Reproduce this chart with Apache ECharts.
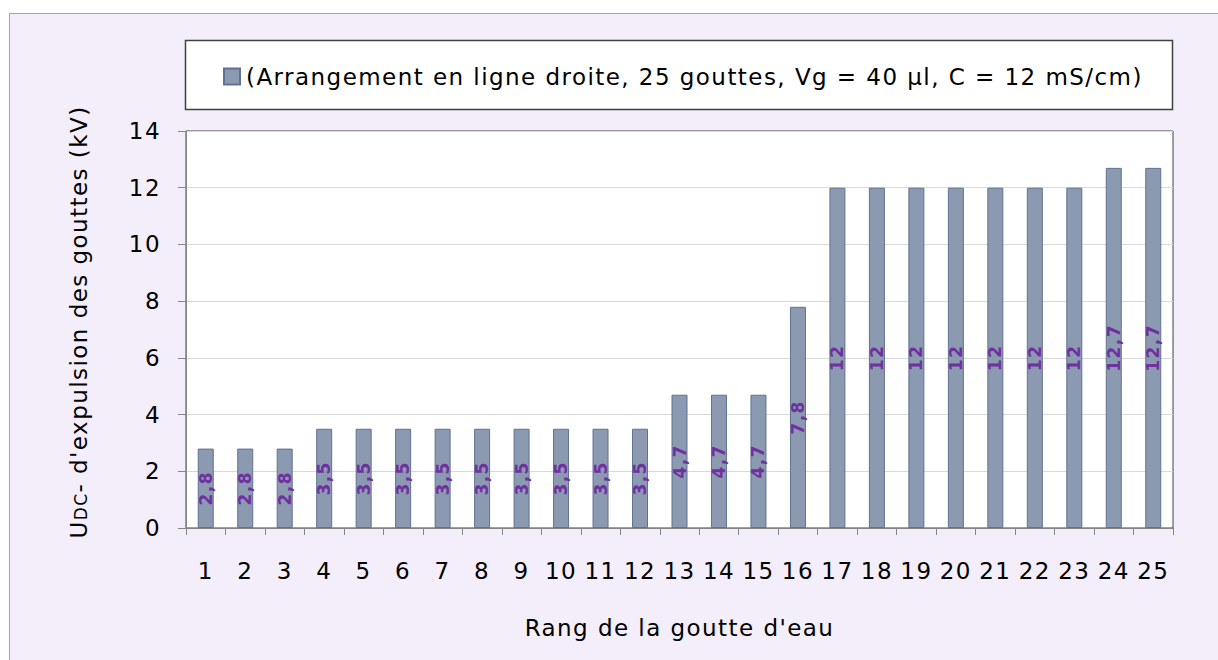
<!DOCTYPE html>
<html>
<head>
<meta charset="utf-8">
<script src="https://cdn.jsdelivr.net/npm/echarts@6/dist/echarts.min.js"></script>
<style>
  html, body { margin: 0; padding: 0; background: #ffffff; }
  #chart { width: 1218px; height: 660px; }
  /* slightly airy lettering, Verdana-style */
  #chart svg text { letter-spacing: 1.45px; }
</style>
</head>
<body>
<div id="chart"></div>
<script>
// Droplet rank and DC expulsion voltage (kV)
const categories = ['1','2','3','4','5','6','7','8','9','10','11','12','13','14','15','16','17','18','19','20','21','22','23','24','25'];
const voltages = [2.8, 2.8, 2.8, 3.5, 3.5, 3.5, 3.5, 3.5, 3.5, 3.5, 3.5, 3.5, 4.7, 4.7, 4.7, 7.8, 12, 12, 12, 12, 12, 12, 12, 12.7, 12.7];
const seriesName = '(Arrangement en ligne droite, 25 gouttes, Vg = 40 µl, C = 12 mS/cm)';
const xTitle = "Rang de la goutte d'eau";
const yTitle = ['U', 'DC', "- d'expulsion des gouttes (kV)"];

const FONT = '"DejaVu Sans", Verdana, sans-serif';
const FS = 23;
const FS_SMALL = 17;
const SPACING = 1.45;

// Width of a string as drawn with the extra letter spacing
const measureCtx = document.createElement('canvas').getContext('2d');
function textWidth(str, size) {
  measureCtx.font = size + 'px ' + FONT;
  return measureCtx.measureText(str).width + str.length * SPACING;
}

// Vertical axis title: "U" + small "DC" + rest, rotated to read upward
const yTitleSizes = [FS, FS_SMALL, FS];
const yTitleWidths = yTitle.map((t, i) => textWidth(t, yTitleSizes[i]));
const yTitleTotal = yTitleWidths.reduce((a, b) => a + b, 0);
let cursor = -yTitleTotal / 2;
const yTitleParts = yTitle.map((t, i) => {
  const part = {
    type: 'text',
    x: cursor,
    y: i === 1 ? FS / 2 - 1.3 : FS / 2,
    style: {
      text: t,
      font: yTitleSizes[i] + 'px ' + FONT,
      fill: '#000',
      align: 'left',
      verticalAlign: 'bottom'
    }
  };
  cursor += yTitleWidths[i];
  return part;
});

const chart = echarts.init(document.getElementById('chart'), null, { renderer: 'svg' });

chart.setOption({
  backgroundColor: '#ffffff',
  textStyle: { fontFamily: FONT, color: '#000' },
  graphic: [
    {
      type: 'rect', z: -10, silent: true,
      shape: { x: 9.5, y: 13.5, width: 1230, height: 680 },
      style: { fill: '#f3eefa', stroke: '#a6a6a6', lineWidth: 1 }
    },
    {
      type: 'rect', z: -5, silent: true,
      shape: { x: 185.5, y: 40.5, width: 987, height: 69 },
      style: { fill: '#ffffff', stroke: '#404040', lineWidth: 1.5 }
    },
    {
      type: 'rect', z: -5, silent: true,
      shape: { x: 186, y: 131, width: 987, height: 397 },
      style: { fill: '#ffffff', stroke: null }
    },
    {
      type: 'group', silent: true,
      x: 79, y: 322,
      rotation: Math.PI / 2,
      children: yTitleParts
    }
  ],
  legend: {
    left: 218, top: 60,
    itemWidth: 16, itemHeight: 16,
    itemGap: 4,
    textStyle: { fontSize: FS, fontFamily: FONT, color: '#000', padding: [0, 0, 0, 1] },
    data: [{ name: seriesName, icon: 'rect' }]
  },
  grid: {
    left: 186, top: 131, width: 987, height: 397,
    show: true, borderColor: '#404040', borderWidth: 1, backgroundColor: 'transparent'
  },
  xAxis: {
    type: 'category',
    data: categories,
    boundaryGap: true,
    name: xTitle,
    nameLocation: 'middle',
    nameGap: 88,
    nameTextStyle: { fontSize: FS, fontFamily: FONT, color: '#000' },
    axisLine: { lineStyle: { color: '#868686', width: 1 } },
    axisTick: { show: true, length: 7, lineStyle: { color: '#868686' } },
    axisLabel: { fontSize: FS, margin: 31, color: '#000', fontFamily: FONT, interval: 0 }
  },
  yAxis: {
    type: 'value',
    min: 0, max: 14, interval: 2,
    axisLine: { show: true, lineStyle: { color: '#868686', width: 1 } },
    axisTick: { show: true, length: 8, lineStyle: { color: '#868686' } },
    axisLabel: { fontSize: FS, margin: 25, color: '#000', fontFamily: FONT },
    splitLine: { show: true, lineStyle: { color: '#d9d9d9', width: 1 } }
  },
  series: [{
    name: seriesName,
    type: 'bar',
    data: voltages,
    barWidth: 16,
    itemStyle: { color: '#8b9ab1', borderColor: '#5f7390', borderWidth: 1 },
    label: {
      show: true,
      position: 'inside',
      rotate: 90,
      fontSize: 17,
      fontWeight: 'bold',
      fontFamily: FONT,
      color: '#7030a0',
      formatter: p => String(p.value).replace('.', ',')
    }
  }]
});
</script>
</body>
</html>
